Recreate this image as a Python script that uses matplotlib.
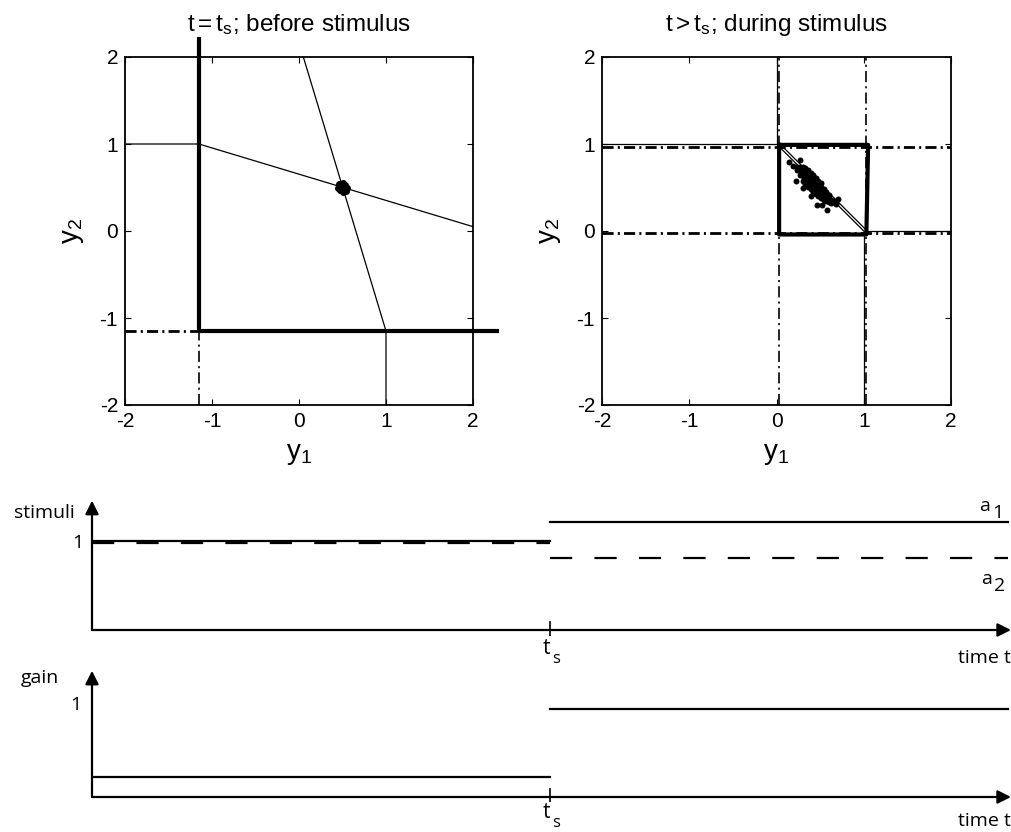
import matplotlib
matplotlib.use('Agg')
import matplotlib.pyplot as plt

plt.rcParams['font.family'] = ['Liberation Sans', 'DejaVu Sans']
plt.rcParams['mathtext.fontset'] = 'custom'
plt.rcParams['mathtext.rm'] = 'Liberation Sans'
plt.rcParams['mathtext.it'] = 'Liberation Sans'
plt.rcParams['axes.unicode_minus'] = False
plt.rcParams['lines.scale_dashes'] = False

# ---- phase plane, t = ts (before stimulus) ----
pre_null1_x = [-2, -1.15, 2]
pre_null1_y = [1, 1, 0.05]
pre_null2_x = [0.05, 1, 1]
pre_null2_y = [2, -1.15, -2]
pre_bound_x = [-1.15, -1.15, 2.3]
pre_bound_y = [2.23, -1.15, -1.15]
pre_thresh = -1.15
pre_cloud_x = [0.50, 0.47, 0.53, 0.48, 0.52, 0.45, 0.55, 0.50, 0.50, 0.47, 0.53, 0.46, 0.54]
pre_cloud_y = [0.50, 0.52, 0.48, 0.47, 0.53, 0.50, 0.50, 0.45, 0.55, 0.47, 0.53, 0.54, 0.46]

# ---- phase plane, t > ts (during stimulus) ----
post_null1_x = [-2, 0, 0]
post_null1_y = [1, 1, 2]
post_null2_x = [1, 1, 2]
post_null2_y = [-2, 0, 0]
post_box_x = [0.03, 1.05, 1.03, 0.03, 0.03]
post_box_y = [0.99, 0.99, -0.04, -0.04, 0.99]
post_diag1_x = [0.03, 1.03]
post_diag1_y = [0.97, -0.03]
post_diag2_x = [0.07, 1.03]
post_diag2_y = [0.97, 0.01]
post_thresh_y = [0.97, -0.02]
post_thresh_x = [0.03, 1.03]
post_cloud_x = [0.14, 0.27, 0.19, 0.22, 0.71, 0.58, 0.46, 0.68, 0.40, 0.30, 0.52,
                0.24, 0.24,
                0.27, 0.27, 0.27,
                0.30, 0.30, 0.30, 0.30,
                0.33, 0.33, 0.33, 0.33, 0.33,
                0.36, 0.36, 0.36, 0.36, 0.36,
                0.39, 0.39, 0.39, 0.39, 0.39,
                0.42, 0.42, 0.42, 0.42, 0.42,
                0.45, 0.45, 0.45, 0.45, 0.45,
                0.48, 0.48, 0.48, 0.48, 0.48,
                0.51, 0.51, 0.51, 0.51, 0.51,
                0.54, 0.54, 0.54, 0.54,
                0.57, 0.57, 0.57, 0.57,
                0.60, 0.60, 0.60,
                0.63, 0.63,
                0.66]
post_cloud_y = [0.79, 0.82, 0.75, 0.58, 0.37, 0.24, 0.30, 0.31, 0.40, 0.50, 0.30,
                0.70, 0.74,
                0.64, 0.69, 0.74,
                0.58, 0.63, 0.68, 0.73,
                0.54, 0.59, 0.64, 0.69, 0.72,
                0.51, 0.56, 0.61, 0.66, 0.70,
                0.48, 0.53, 0.58, 0.63, 0.67,
                0.45, 0.50, 0.55, 0.60, 0.64,
                0.42, 0.47, 0.52, 0.57, 0.61,
                0.40, 0.44, 0.49, 0.54, 0.58,
                0.38, 0.42, 0.46, 0.51, 0.55,
                0.36, 0.40, 0.44, 0.48,
                0.34, 0.38, 0.42, 0.45,
                0.33, 0.37, 0.41,
                0.32, 0.36,
                0.35]

ticks = [-2, -1, 0, 1, 2]

# ---- stimuli and gain over time ----
t_pre = [0, 5]
t_post = [5, 10]
a1_pre, a1_post = [1.0, 1.0], [1.21, 1.21]
a2_pre, a2_post = [0.975, 0.975], [0.805, 0.805]
gain_pre, gain_post = [0.22, 0.22], [0.965, 0.965]
t_s = 5

fig = plt.figure(figsize=(10.11, 8.32), dpi=100)

DASHDOT = (0, (8, 3, 1.5, 3))


def phase_axes(rect):
    ax = fig.add_axes(rect)
    ax.set_xlim(-2, 2)
    ax.set_ylim(-2, 2)
    ax.set_xticks(ticks)
    ax.set_yticks(ticks)
    ax.tick_params(direction='in', length=4, width=0.8, top=True, right=True,
                   labelsize=15, pad=5)
    for sp in ax.spines.values():
        sp.set_linewidth(1.3)
    ax.set_xlabel(r'$\mathrm{y}_1$', fontsize=20, labelpad=7)
    ax.set_ylabel(r'$\mathrm{y}_2$', fontsize=20, labelpad=10)
    return ax


ax1 = phase_axes([125 / 1011, 1 - 405 / 832, 348 / 1011, 348 / 832])
ax1.set_title(r'$\mathrm{t{=}t_s}$; before stimulus', fontsize=17.5, pad=19)
ax1.plot(pre_null1_x, pre_null1_y, color='k', lw=0.9)
ax1.plot(pre_null2_x, pre_null2_y, color='k', lw=0.9)
ax1.plot([-2, pre_thresh], [pre_thresh, pre_thresh], color='k', lw=2, linestyle=DASHDOT)
ax1.plot([pre_thresh, pre_thresh], [-2, pre_thresh], color='k', lw=1.2, linestyle=DASHDOT)
ax1.plot(pre_bound_x, pre_bound_y, color='k', lw=3, clip_on=False, solid_capstyle='butt')
ax1.plot(pre_cloud_x, pre_cloud_y, 'o', color='k', ms=4)

ax2 = phase_axes([602 / 1011, 1 - 405 / 832, 349 / 1011, 348 / 832])
ax2.set_title(r'$\mathrm{t{>}t_s}$; during stimulus', fontsize=17.5, pad=19)
ax2.plot(post_null1_x, post_null1_y, color='k', lw=0.9)
ax2.plot(post_null2_x, post_null2_y, color='k', lw=0.9)
for yv in post_thresh_y:
    ax2.axhline(yv, color='k', lw=2, linestyle=DASHDOT)
for xv in post_thresh_x:
    ax2.axvline(xv, color='k', lw=1.2, linestyle=DASHDOT)
ax2.plot(post_diag1_x, post_diag1_y, color='k', lw=0.9)
ax2.plot(post_diag2_x, post_diag2_y, color='k', lw=0.9)
ax2.plot(post_box_x, post_box_y, color='k', lw=3)
ax2.plot(post_cloud_x, post_cloud_y, 'o', color='k', ms=4.3, mew=0)

# ---- time-course sketches ----
BFONT = ['Open Sans', 'DejaVu Sans']


def sketch_axes(rect, ylim):
    ax = fig.add_axes(rect)
    ax.set_xlim(0, 10.03)
    ax.set_ylim(*ylim)
    ax.axis('off')
    ax.annotate('', xy=(10.03, 0), xytext=(0, 0),
                arrowprops=dict(arrowstyle='-|>', lw=1.6, color='k',
                                mutation_scale=20, shrinkA=0, shrinkB=0),
                annotation_clip=False)
    ax.annotate('', xy=(0, ylim[1] - 0.03), xytext=(0, 0),
                arrowprops=dict(arrowstyle='-|>', lw=1.6, color='k',
                                mutation_scale=20, shrinkA=0, shrinkB=0),
                annotation_clip=False)
    ax.plot([t_s, t_s], [-0.09, 0.09], color='k', lw=1.2)
    return ax


# stimuli panel: 0 at px 630, 1 at px 541
sy = 89.0
ax3 = sketch_axes([92 / 1011, 1 - 636 / 832, 919 / 1011, 138 / 832],
                  (-6 / sy, 132 / sy))
ax3.plot(t_pre, a1_pre, color='k', lw=1.6)
ax3.plot(t_pre, a2_pre, color='k', lw=1.6, linestyle=(0, (16, 16)))
ax3.plot(t_post, a1_post, color='k', lw=1.6)
ax3.plot(t_post, a2_post, color='k', lw=1.6, linestyle=(0, (16, 16)))
ax3.text(-0.52, 1.31, 'stimuli', fontsize=14, family=BFONT, ha='center', va='center')
ax3.text(-0.1, 0.98, '1', fontsize=14, family=BFONT, ha='right', va='center')
ax3.text(t_s + 0.0, -0.21, 't', fontsize=15, family=BFONT, ha='right', va='center')
ax3.text(t_s + 0.02, -0.33, 's', fontsize=12, family=BFONT, ha='left', va='center')
ax3.text(10.03, -0.31, 'time t', fontsize=14, family=BFONT, ha='right', va='center')
ax3.text(9.80, 1.39, 'a', fontsize=14, family=BFONT, ha='right', va='center')
ax3.text(9.82, 1.32, '1', fontsize=14, family=BFONT, ha='left', va='center')
ax3.text(9.82, 0.57, 'a', fontsize=14, family=BFONT, ha='right', va='center')
ax3.text(9.84, 0.49, '2', fontsize=14, family=BFONT, ha='left', va='center')

# gain panel: 0 at px 797, 1 at px 705
gy = 91.7
ax4 = sketch_axes([92 / 1011, 1 - 802 / 832, 919 / 1011, 134 / 832],
                  (-5 / gy, 129 / gy))
ax4.plot(t_pre, gain_pre, color='k', lw=1.6)
ax4.plot(t_post, gain_post, color='k', lw=1.6)
ax4.text(-0.57, 1.3, 'gain', fontsize=14, family=BFONT, ha='center', va='center')
ax4.text(-0.12, 1.0, '1', fontsize=14, family=BFONT, ha='right', va='center')
ax4.text(t_s + 0.0, -0.17, 't', fontsize=15, family=BFONT, ha='right', va='center')
ax4.text(t_s + 0.02, -0.28, 's', fontsize=12, family=BFONT, ha='left', va='center')
ax4.text(10.03, -0.26, 'time t', fontsize=14, family=BFONT, ha='right', va='center')

fig.savefig('out.png', dpi=100)
